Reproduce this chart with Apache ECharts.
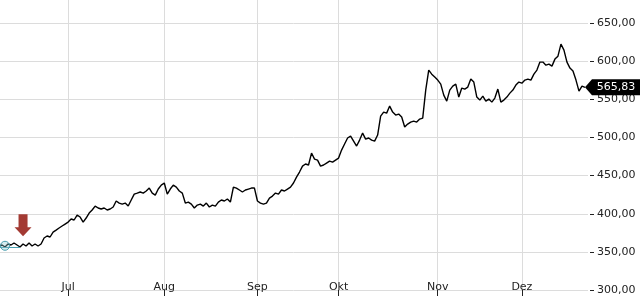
<!DOCTYPE html>
<html>
<head>
<meta charset="utf-8">
<script src="https://cdn.jsdelivr.net/npm/echarts@6/dist/echarts.min.js"></script>
<style>html,body{margin:0;padding:0;background:#fff}#c{width:640px;height:300px}</style>
</head>
<body>
<div id="c"></div>
<script>
// month labels and number of sampled points per month
const months = ['Jun', 'Jul', 'Aug', 'Sep', 'Okt', 'Nov', 'Dez'];
const pointsPerMonth = [23, 32, 31, 27, 33, 28, 23];

// price series (sampled)
const prices = [
  357.7, 359.0, 356.4, 360.3, 359.0, 361.6, 359.0, 356.4, 360.3, 357.7,
  361.6, 357.7, 360.3, 357.7, 360.3, 368.2, 370.8, 369.5, 376.0, 378.6,
  381.3, 383.9, 386.5, 389.1, 393.1, 391.8, 398.3, 395.7, 389.1, 394.4,
  400.9, 404.9, 410.1, 407.5, 406.2, 407.5, 404.9, 406.2, 408.8, 416.7,
  414.0, 412.7, 414.0, 410.1, 418.0, 425.8, 427.1, 428.5, 427.1, 429.8,
  433.7, 427.1, 424.5, 432.4, 437.6, 440.3, 425.8, 432.4, 437.6, 435.0,
  429.8, 427.1, 414.0, 415.3, 412.7, 407.5, 411.4, 412.7, 410.1, 414.0,
  408.8, 411.4, 410.1, 415.3, 418.0, 416.7, 419.3, 415.3, 435.0, 433.7,
  431.1, 428.5, 431.1, 432.4, 433.7, 433.7, 416.7, 414.0, 412.7, 414.0,
  420.6, 423.2, 427.1, 425.8, 431.1, 429.8, 432.4, 435.0, 440.3, 448.1,
  454.7, 462.5, 465.2, 463.9, 479.6, 471.7, 470.4, 462.5, 463.9, 466.5,
  469.1, 467.8, 470.4, 473.0, 483.5, 491.4, 499.3, 501.9, 495.3, 488.8,
  496.6, 505.8, 497.9, 499.3, 496.6, 495.3, 503.2, 528.1, 533.3, 532.0,
  541.2, 533.3, 529.4, 530.7, 526.8, 513.7, 517.6, 520.2, 521.5, 520.2,
  524.2, 525.5, 562.2, 588.4, 583.1, 579.2, 575.3, 570.0, 555.6, 547.7,
  562.2, 567.4, 570.0, 553.0, 564.8, 563.5, 566.1, 576.6, 572.7, 553.0,
  549.1, 554.3, 547.7, 550.4, 546.4, 551.7, 563.5, 546.4, 549.1, 553.0,
  558.2, 562.2, 568.7, 572.7, 571.3, 575.3, 576.6, 575.3, 583.1, 588.4,
  598.9, 598.9, 594.9, 596.3, 593.6, 602.8, 606.7, 622.5, 614.6, 598.9,
  591.0, 587.1, 575.3, 560.9, 567.4, 565.83, null
];

const yTicks = [300, 350, 400, 450, 500, 550, 600, 650];
const lastPrice = 565.83;
const entryPrice = 356;

// build categories
const categories = [];
months.forEach((m, mi) => {
  for (let k = 0; k < pointsPerMonth[mi]; k++) categories.push(m + '|' + k);
});
const isMonthStart = (idx, val) => val.endsWith('|0') && !val.startsWith('Jun');
const lastIdx = prices.length - 2;

const chart = echarts.init(document.getElementById('c'), null, {renderer: 'canvas'});
chart.setOption({
  animation: false,
  backgroundColor: '#fff',
  grid: {left: -1, right: 52, top: -15, bottom: 10, outerBoundsMode: 'none', containLabel: false},
  xAxis: {
    type: 'category',
    data: categories,
    boundaryGap: false,
    axisLine: {show: false},
    axisTick: {show: true, interval: isMonthStart, length: 6, lineStyle: {color: '#222'}},
    axisLabel: {
      inside: true, margin: -3, interval: isMonthStart,
      formatter: v => v.split('|')[0],
      color: '#222', fontSize: 11, fontFamily: 'DejaVu Sans'
    },
    splitLine: {show: true, interval: isMonthStart, lineStyle: {color: '#dcdcdc', width: 1}}
  },
  yAxis: {
    type: 'value', position: 'right', min: 300, max: 700, interval: 50, offset: 2,
    axisLine: {show: false},
    axisTick: {show: true, length: 4, lineStyle: {color: '#222'}},
    axisLabel: {
      margin: 7, color: '#222', fontSize: 11, fontFamily: 'DejaVu Sans',
      formatter: v => yTicks.includes(v) ? v.toFixed(2).replace('.', ',') : ''
    },
    splitLine: {lineStyle: {color: '#dcdcdc', width: 1}}
  },
  series: [{
    type: 'line',
    data: prices,
    showSymbol: false,
    connectNulls: false,
    lineStyle: {color: '#000', width: 1.4},
    itemStyle: {color: '#000'},
    markLine: {
      silent: true, symbol: 'none', label: {show: false},
      lineStyle: {color: '#4a9fb0', width: 1, type: 'solid'},
      data: [[{coord: [categories[0], entryPrice]}, {coord: [categories[7], entryPrice]}]]
    },
    markPoint: {
      silent: true,
      data: [
        {
          coord: [categories[2], 358],
          symbol: 'circle', symbolSize: 9,
          itemStyle: {color: 'rgba(140,200,210,0.35)', borderColor: '#4a9fb0', borderWidth: 1},
          label: {show: false}
        },
        {
          coord: [categories[8], 385],
          symbol: 'path://M4,0L13,0L13,13L17,13L8.5,22L0,13L4,13Z',
          symbolSize: [17, 22],
          itemStyle: {color: '#a33a33'},
          label: {show: false}
        },
        {
          coord: [categories[lastIdx], lastPrice],
          symbol: 'path://M0,8L7,0L56,0L56,16L7,16Z',
          symbolSize: [56, 16], symbolOffset: [28, 0],
          itemStyle: {color: '#000'},
          label: {
            show: true, formatter: lastPrice.toFixed(2).replace('.', ','),
            color: '#fff', fontSize: 11, fontFamily: 'DejaVu Sans', offset: [3, 0]
          }
        }
      ]
    }
  }]
});
</script>
</body>
</html>
